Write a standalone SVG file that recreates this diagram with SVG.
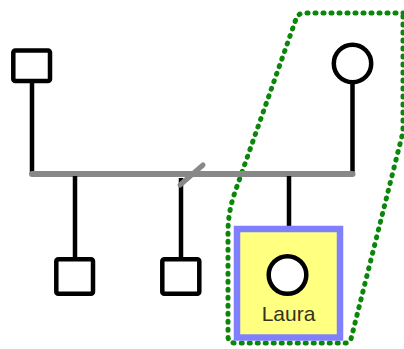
<svg xmlns="http://www.w3.org/2000/svg" width="404" height="349" viewBox="0 0 404 349">
  <style>
    .person { fill: #ffffff; stroke: #000000; stroke-width: 4.5; }
    .line { stroke: #000000; stroke-width: 4.5; fill: none; }
    .sibship { stroke: #888888; stroke-width: 6; stroke-linecap: round; fill: none; }
    .label { font-family: "Liberation Sans", Arial, sans-serif; font-size: 21px; fill: #33331f; text-anchor: middle; }
  </style>
  <rect width="404" height="349" fill="#ffffff"/>

  <!-- group outline -->
  <g id="group-outline">
    <path d="M 404,13 L 305,13 Q 298,13 296,19 L 235,192 Q 228,212 228,232 L 228,336 Q 228,343 235,343 L 346,343 Q 350,343 351,339 L 403,132 L 403,13"
          fill="none" stroke="#0a870a" stroke-width="5" stroke-linecap="round" stroke-dasharray="1 7"/>
  </g>

  <!-- connectors -->
  <g id="connectors">
    <line class="line" x1="32" y1="82" x2="32" y2="174"/>
    <line class="line" x1="352.5" y1="82" x2="352.5" y2="174"/>
    <line class="sibship" x1="32" y1="174" x2="352.5" y2="174"/>
    <line class="line" x1="75" y1="176" x2="75" y2="259"/>
    <line class="line" x1="181" y1="178" x2="181" y2="259"/>
    <line class="line" x1="289" y1="176" x2="289" y2="228"/>
    <line x1="180" y1="185" x2="203" y2="165" stroke="#888888" stroke-width="5" stroke-linecap="round"/>
  </g>

  <!-- parents -->
  <g id="father">
    <rect class="person" x="13.3" y="50.5" width="36.7" height="30.5" rx="2"/>
  </g>
  <g id="mother">
    <circle class="person" cx="352.5" cy="63.5" r="18.7"/>
  </g>

  <!-- children -->
  <g id="son-1">
    <rect class="person" x="56.3" y="259.3" width="36.7" height="34.5" rx="2"/>
  </g>
  <g id="son-2">
    <rect class="person" x="162.3" y="259.3" width="37" height="34.5" rx="2"/>
  </g>
  <g id="laura">
    <rect x="237" y="229" width="103" height="108.5" fill="#ffff80" stroke="#8080ff" stroke-width="6.5"/>
    <circle class="person" cx="287.5" cy="275" r="18.8"/>
    <text class="label" x="288.5" y="321">Laura</text>
  </g>
</svg>
